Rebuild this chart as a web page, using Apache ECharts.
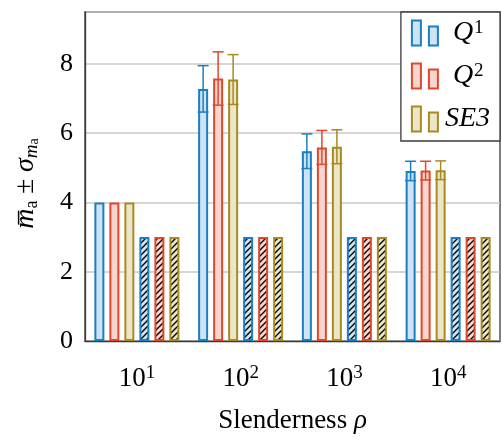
<!DOCTYPE html>
<html>
<head>
<meta charset="utf-8">
<title>Slenderness</title>
<script src="https://cdn.jsdelivr.net/npm/echarts@6/dist/echarts.min.js"></script>
</head>
<body style="margin:0">
<div id="main" style="width:502px;height:448px;"></div>
<script type="text/javascript">
// exponents of the slenderness categories: 10^1 ... 10^4
var exponents = ['1', '2', '3', '4'];

// mean and std of m_a per method
var q1Mean = [4, 7.28, 5.48, 4.91];
var q1Std = [0, 0.67, 0.50, 0.28];
var q2Mean = [4, 7.58, 5.59, 4.92];
var q2Std = [0, 0.77, 0.49, 0.27];
var se3Mean = [4, 7.55, 5.61, 4.93];
var se3Std = [0, 0.72, 0.49, 0.27];

// hatched bars
var q1Hatch = [3, 3, 3, 3];
var q2Hatch = [3, 3, 3, 3];
var se3Hatch = [3, 3, 3, 3];

var FONT = 'Liberation Serif';
var methods = [
    {name: 'Q1', label: '{it|Q}{sup|1}', line: '#1a7fc3', fill: '#cfe4f2', mean: q1Mean, std: q1Std, hatch: q1Hatch},
    {name: 'Q2', label: '{it|Q}{sup|2}', line: '#e0482b', fill: '#f7d6cf', mean: q2Mean, std: q2Std, hatch: q2Hatch},
    {name: 'SE3', label: '{it2|SE3}', line: '#a88b1f', fill: '#ede5ca', mean: se3Mean, std: se3Std, hatch: se3Hatch}
];

function hatchPattern(bg) {
    var c = document.createElement('canvas');
    c.width = 6;
    c.height = 6;
    var ctx = c.getContext('2d');
    ctx.fillStyle = bg;
    ctx.fillRect(0, 0, 6, 6);
    ctx.strokeStyle = '#000';
    ctx.lineWidth = 1.4;
    ctx.beginPath();
    ctx.moveTo(-1, 7); ctx.lineTo(7, -1);
    ctx.moveTo(-1, 1); ctx.lineTo(1, -1);
    ctx.moveTo(5, 7); ctx.lineTo(7, 5);
    ctx.stroke();
    return c;
}

var BAR_W = 10, STEP = 15;
var series = [];
methods.forEach(function (m) {
    series.push({
        name: m.name, type: 'bar', data: m.mean, barWidth: BAR_W, barGap: '50%',
        itemStyle: {color: m.fill, borderColor: m.line, borderWidth: 2}
    });
});
methods.forEach(function (m) {
    series.push({
        name: m.name + ' hatched', type: 'bar', data: m.hatch, barWidth: BAR_W, barGap: '50%',
        itemStyle: {color: {image: hatchPattern(m.fill), repeat: 'repeat'}, borderColor: m.line, borderWidth: 2}
    });
});
// error bars on the solid bars
methods.forEach(function (m, k) {
    series.push({
        name: m.name + ' err', type: 'custom', z: 5,
        data: m.mean.map(function (v, i) { return [i, v, m.std[i]]; }),
        encode: {x: 0, y: 1},
        renderItem: function (params, api) {
            var s = api.value(2);
            if (!s) return;
            var i = api.value(0), v = api.value(1);
            var off = (k - 2.5) * STEP;
            var hi = api.coord([i, v + s]), lo = api.coord([i, v - s]);
            var x = hi[0] + off, hw = 5.5;
            var st = {stroke: m.line, lineWidth: 1.5};
            return {
                type: 'group', children: [
                    {type: 'line', shape: {x1: x, y1: hi[1], x2: x, y2: lo[1]}, style: st},
                    {type: 'line', shape: {x1: x - hw, y1: hi[1], x2: x + hw, y2: hi[1]}, style: st},
                    {type: 'line', shape: {x1: x - hw, y1: lo[1], x2: x + hw, y2: lo[1]}, style: st}
                ]
            };
        }
    });
});

var myChart = echarts.init(document.getElementById('main'));
myChart.setOption({
    animation: false,
    grid: {left: 85, right: 2, top: 12, bottom: 107, show: true, borderColor: '#3a3a3a', borderWidth: 1.3},
    legend: {
        data: methods.map(function (m) { return m.name; }),
        orient: 'vertical', right: 2, top: 12,
        backgroundColor: '#fff', borderColor: '#3a3a3a', borderWidth: 1.3,
        padding: [7, 10, 8, 10], itemGap: 15,
        itemWidth: 26, itemHeight: 25,
        icon: 'path://M0,0H9V25H0Z M17,6H26V25H17Z',
        formatter: function (name) {
            for (var i = 0; i < methods.length; i++) if (methods[i].name === name) return methods[i].label;
            return name;
        },
        textStyle: {
            fontFamily: FONT, color: '#000', fontSize: 28, lineHeight: 28,
            rich: {
                it: {fontFamily: FONT, fontStyle: 'italic', fontSize: 28, lineHeight: 28, color: '#000', padding: [0, 1, 0, 10]},
                it2: {fontFamily: FONT, fontStyle: 'italic', fontSize: 28, lineHeight: 28, color: '#000', padding: [0, 0, 0, 2]},
                sup: {fontFamily: FONT, fontSize: 19, lineHeight: 12, verticalAlign: 'top', color: '#000'}
            }
        }
    },
    xAxis: {
        type: 'category', data: exponents,
        axisLine: {lineStyle: {color: '#3a3a3a', width: 1.3}},
        axisTick: {show: false},
        axisLabel: {
            interval: 0, margin: 23, color: '#000', fontFamily: FONT, fontSize: 27, lineHeight: 30,
            formatter: function (v) { return '10{sup|' + v + '}'; },
            rich: {sup: {fontFamily: FONT, fontSize: 19, lineHeight: 14, verticalAlign: 'top', color: '#000'}}
        },
        name: 'Slenderness {it|ρ}', nameLocation: 'middle', nameGap: 66,
        nameTextStyle: {
            color: '#000', fontFamily: FONT, fontSize: 27,
            rich: {it: {fontFamily: FONT, fontStyle: 'italic', fontSize: 27, color: '#000'}}
        }
    },
    yAxis: {
        type: 'value', min: 0, max: 9.5, interval: 2,
        axisLine: {show: true, lineStyle: {color: '#3a3a3a', width: 1.3}},
        axisLabel: {margin: 12, color: '#000', fontFamily: FONT, fontSize: 26, showMaxLabel: false},
        splitLine: {lineStyle: {color: '#c8c8c8', width: 1.5}},
        name: '{it|m\u0305}{sub|a}{op| ± }{it|σ}{subi|m}{ssub|a}',
        nameLocation: 'middle', nameRotate: 90, nameGap: 44,
        nameTextStyle: {
            color: '#000', fontFamily: FONT, fontSize: 27, lineHeight: 30, padding: [0, 14, 0, 0],
            rich: {
                it: {fontFamily: FONT, fontStyle: 'italic', fontSize: 28, lineHeight: 30, color: '#000'},
                op: {fontFamily: FONT, fontSize: 27, lineHeight: 30, color: '#000'},
                sub: {fontFamily: FONT, fontSize: 18, lineHeight: 14, verticalAlign: 'bottom', color: '#000'},
                subi: {fontFamily: FONT, fontStyle: 'italic', fontSize: 19, lineHeight: 14, verticalAlign: 'bottom', color: '#000'},
                ssub: {fontFamily: FONT, fontSize: 14, lineHeight: 8, verticalAlign: 'bottom', color: '#000'}
            }
        }
    },
    series: series
});
</script>
</body>
</html>
